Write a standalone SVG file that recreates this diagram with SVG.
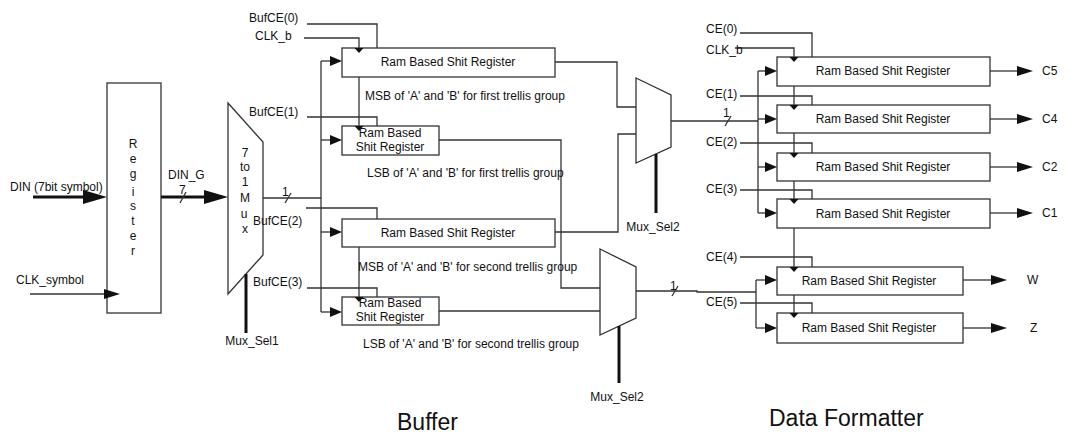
<svg xmlns="http://www.w3.org/2000/svg" xmlns:xlink="http://www.w3.org/1999/xlink" width="1070" height="437" viewBox="0 0 1070 437">
<style>
  text { font-family: "Liberation Sans", Arial, sans-serif; font-size: 12px; fill: #111; }
  .big { font-size: 23px; }
  .mid { text-anchor: middle; }
  .box { fill: #fff; stroke: #333; stroke-width: 1.3; }
  .ln { fill: none; stroke: #333; stroke-width: 1.3; }
  .thick { fill: none; stroke: #111; stroke-width: 3; }
  .ah { fill: #111; stroke: none; }
</style>
<defs>
  <path id="ar" d="M0,0 L-12,-5 L-12,5 Z"/>
  <path id="ao" d="M0,0 L-16,-5 L-16,5 Z"/>
  <path id="ad" d="M0,0 L-4.5,-5 L4.5,-5 Z"/>
</defs>
<rect width="1070" height="437" fill="#fff"/>

<!-- Nodes -->
<g id="register">
  <rect class="box" x="107" y="83" width="54" height="230"/>
  <text class="mid" x="133" y="148">R</text>
  <text class="mid" x="133" y="163">e</text>
  <text class="mid" x="133" y="178">g</text>
  <text class="mid" x="133" y="196">i</text>
  <text class="mid" x="133" y="210">s</text>
  <text class="mid" x="133" y="225">t</text>
  <text class="mid" x="133" y="240">e</text>
  <text class="mid" x="133" y="255">r</text>
</g>
<g id="mux1">
  <polygon class="box" points="228,103 263,142 263,255 228,294"/>
  <text class="mid" x="245" y="157">7</text>
  <text class="mid" x="245" y="171">to</text>
  <text class="mid" x="245" y="186">1</text>
  <text class="mid" x="245" y="202">M</text>
  <text class="mid" x="244" y="218">u</text>
  <text class="mid" x="245" y="233">x</text>
</g>
<g id="buf1">
  <rect class="box" x="342" y="48" width="213" height="29"/>
  <text class="mid" x="448" y="66">Ram Based Shit Register</text>
</g>
<g id="buf2">
  <rect class="box" x="342" y="126" width="97" height="29"/>
  <text class="mid" x="390" y="137">Ram Based</text>
  <text class="mid" x="390" y="151">Shit Register</text>
</g>
<g id="buf3">
  <rect class="box" x="342" y="219" width="213" height="28"/>
  <text class="mid" x="448" y="237">Ram Based Shit Register</text>
</g>
<g id="buf4">
  <rect class="box" x="342" y="297" width="97" height="28"/>
  <text class="mid" x="390" y="307">Ram Based</text>
  <text class="mid" x="390" y="321">Shit Register</text>
</g>
<g id="mux2">
  <polygon class="box" points="636,78 671,95 671,147 636,163"/>
</g>
<g id="mux3">
  <polygon class="box" points="600,249 636,267 636,318 600,335"/>
</g>
<g id="df1">
  <rect class="box" x="777" y="57" width="213" height="29"/>
  <text class="mid" x="883" y="75">Ram Based Shit Register</text>
</g>
<g id="df2">
  <rect class="box" x="777" y="105" width="213" height="28"/>
  <text class="mid" x="883" y="123">Ram Based Shit Register</text>
</g>
<g id="df3">
  <rect class="box" x="777" y="153" width="213" height="28"/>
  <text class="mid" x="883" y="171">Ram Based Shit Register</text>
</g>
<g id="df4">
  <rect class="box" x="777" y="199" width="213" height="29"/>
  <text class="mid" x="883" y="218">Ram Based Shit Register</text>
</g>
<g id="df5">
  <rect class="box" x="777" y="267" width="186" height="28"/>
  <text class="mid" x="869" y="285">Ram Based Shit Register</text>
</g>
<g id="df6">
  <rect class="box" x="777" y="313" width="186" height="30"/>
  <text class="mid" x="869" y="332">Ram Based Shit Register</text>
</g>

<!-- Connectors -->
<g id="connectors">
  <line class="thick" x1="33" y1="197" x2="90" y2="197"/>
  <polygon class="ah" points="107,197 83,190 83,204"/>
  <line class="ln" x1="30" y1="294" x2="106" y2="294"/>
  <polygon class="ah" points="120,294 104,289 104,299"/>
  <line class="thick" x1="161" y1="197" x2="210" y2="197"/>
  <polygon class="ah" points="228,197 204,190 204,204"/>
  <line class="ln" x1="180" y1="203" x2="186" y2="192"/>
  <line class="ln" x1="263" y1="198" x2="321" y2="198"/>
  <line class="ln" x1="285" y1="203" x2="291" y2="193"/>
  <line class="thick" x1="246" y1="274" x2="246" y2="333"/>
  <line class="ln" x1="321" y1="61" x2="321" y2="312"/>
  <line class="ln" x1="321" y1="61" x2="334" y2="61"/>
  <use href="#ar" xlink:href="#ar" x="342" y="61" class="ah"/>
  <line class="ln" x1="321" y1="140" x2="334" y2="140"/>
  <use href="#ar" xlink:href="#ar" x="342" y="140" class="ah"/>
  <line class="ln" x1="321" y1="232" x2="334" y2="232"/>
  <use href="#ar" xlink:href="#ar" x="342" y="232" class="ah"/>
  <line class="ln" x1="321" y1="312" x2="334" y2="312"/>
  <use href="#ar" xlink:href="#ar" x="342" y="312" class="ah"/>
  <polyline class="ln" points="307,24 377,24 377,48"/>
  <polyline class="ln" points="304,38 359,38 359,48"/>
  <use href="#ad" xlink:href="#ad" x="359" y="53" class="ah"/>
  <polyline class="ln" points="307,117 377,117 377,126"/>
  <line class="ln" x1="359" y1="77" x2="359" y2="126"/>
  <use href="#ad" xlink:href="#ad" x="359" y="131" class="ah"/>
  <polyline class="ln" points="306,208 377,208 377,219"/>
  <polyline class="ln" points="307,288 377,288 377,297"/>
  <line class="ln" x1="359" y1="247" x2="359" y2="297"/>
  <use href="#ad" xlink:href="#ad" x="359" y="302" class="ah"/>
  <polyline class="ln" points="555,62 617,62 617,107 636,107"/>
  <polyline class="ln" points="555,232 618,232 618,134 636,134"/>
  <polyline class="ln" points="439,140 561,140 561,288 600,288"/>
  <line class="ln" x1="439" y1="311" x2="600" y2="311"/>
  <line class="ln" x1="671" y1="121" x2="758" y2="121"/>
  <line class="ln" x1="725" y1="126" x2="731" y2="116"/>
  <line class="thick" x1="656" y1="154" x2="656" y2="213"/>
  <polyline class="ln" points="636,291 697,291 697,292 756,292"/>
  <line class="ln" x1="672" y1="296" x2="678" y2="286"/>
  <line class="thick" x1="619" y1="326" x2="619" y2="383"/>
  <line class="ln" x1="758" y1="71" x2="758" y2="213"/>
  <line class="ln" x1="758" y1="71" x2="766" y2="71"/>
  <use href="#ar" xlink:href="#ar" x="777" y="71" class="ah"/>
  <line class="ln" x1="758" y1="119" x2="766" y2="119"/>
  <use href="#ar" xlink:href="#ar" x="777" y="119" class="ah"/>
  <line class="ln" x1="758" y1="167" x2="766" y2="167"/>
  <use href="#ar" xlink:href="#ar" x="777" y="167" class="ah"/>
  <line class="ln" x1="758" y1="213" x2="766" y2="213"/>
  <use href="#ar" xlink:href="#ar" x="777" y="213" class="ah"/>
  <line class="ln" x1="756" y1="280" x2="756" y2="328"/>
  <line class="ln" x1="756" y1="280" x2="766" y2="280"/>
  <use href="#ar" xlink:href="#ar" x="777" y="280" class="ah"/>
  <line class="ln" x1="756" y1="328" x2="766" y2="328"/>
  <use href="#ar" xlink:href="#ar" x="777" y="328" class="ah"/>
  <polyline class="ln" points="740,33 812,33 812,57"/>
  <polyline class="ln" points="735,48 794,48 794,57"/>
  <use href="#ad" xlink:href="#ad" x="794" y="62" class="ah"/>
  <polyline class="ln" points="740,96 812,96 812,105"/>
  <line class="ln" x1="794" y1="86" x2="794" y2="105"/>
  <use href="#ad" xlink:href="#ad" x="794" y="110" class="ah"/>
  <polyline class="ln" points="740,143 812,143 812,153"/>
  <line class="ln" x1="794" y1="133" x2="794" y2="153"/>
  <use href="#ad" xlink:href="#ad" x="794" y="158" class="ah"/>
  <polyline class="ln" points="740,190 812,190 812,199"/>
  <line class="ln" x1="794" y1="181" x2="794" y2="199"/>
  <use href="#ad" xlink:href="#ad" x="794" y="204" class="ah"/>
  <polyline class="ln" points="740,257 812,257 812,267"/>
  <line class="ln" x1="794" y1="228" x2="794" y2="267"/>
  <use href="#ad" xlink:href="#ad" x="794" y="272" class="ah"/>
  <polyline class="ln" points="740,303 812,303 812,313"/>
  <line class="ln" x1="794" y1="295" x2="794" y2="313"/>
  <use href="#ad" xlink:href="#ad" x="794" y="318" class="ah"/>
  <line class="ln" x1="990" y1="71" x2="1020" y2="71"/>
  <use href="#ao" xlink:href="#ao" x="1033" y="71" class="ah"/>
  <line class="ln" x1="990" y1="119" x2="1020" y2="119"/>
  <use href="#ao" xlink:href="#ao" x="1033" y="119" class="ah"/>
  <line class="ln" x1="990" y1="167" x2="1020" y2="167"/>
  <use href="#ao" xlink:href="#ao" x="1033" y="167" class="ah"/>
  <line class="ln" x1="990" y1="213" x2="1020" y2="213"/>
  <use href="#ao" xlink:href="#ao" x="1033" y="213" class="ah"/>
  <line class="ln" x1="963" y1="280" x2="995" y2="280"/>
  <use href="#ao" xlink:href="#ao" x="1007" y="280" class="ah"/>
  <line class="ln" x1="963" y1="328" x2="995" y2="328"/>
  <use href="#ao" xlink:href="#ao" x="1007" y="328" class="ah"/>
</g>

<!-- Labels -->
<g id="labels">
  <text x="10" y="191">DIN (7bit symbol)</text>
  <text x="16" y="284">CLK_symbol</text>
  <text x="168" y="179">DIN_G</text>
  <text x="179" y="194">7</text>
  <text x="282" y="196">1</text>
  <text class="mid" x="252" y="345">Mux_Sel1</text>
  <text x="249" y="22">BufCE(0)</text>
  <text x="255" y="40">CLK_b</text>
  <text x="249" y="116">BufCE(1)</text>
  <text x="253" y="225">BufCE(2)</text>
  <text x="253" y="286">BufCE(3)</text>
  <text x="365" y="100">MSB of 'A' and 'B' for first trellis group</text>
  <text x="367" y="177">LSB of 'A' and 'B' for first trellis group</text>
  <text x="358" y="271">MSB of 'A' and 'B' for second trellis group</text>
  <text x="363" y="348">LSB of 'A' and 'B' for second trellis group</text>
  <text class="mid" x="653" y="231">Mux_Sel2</text>
  <text class="mid" x="617" y="401">Mux_Sel2</text>
  <text x="723" y="117">1</text>
  <text x="670" y="290">1</text>
  <text x="706" y="33">CE(0)</text>
  <text x="706" y="54">CLK_b</text>
  <text x="706" y="98">CE(1)</text>
  <text x="706" y="146">CE(2)</text>
  <text x="706" y="193">CE(3)</text>
  <text x="706" y="261">CE(4)</text>
  <text x="706" y="306">CE(5)</text>
  <text x="1042" y="75">C5</text>
  <text x="1042" y="123">C4</text>
  <text x="1042" y="171">C2</text>
  <text x="1042" y="217">C1</text>
  <text x="1027" y="284">W</text>
  <text x="1030" y="332">Z</text>
  <text class="big" x="397" y="430">Buffer</text>
  <text class="big" x="769" y="426">Data Formatter</text>
</g>
</svg>
